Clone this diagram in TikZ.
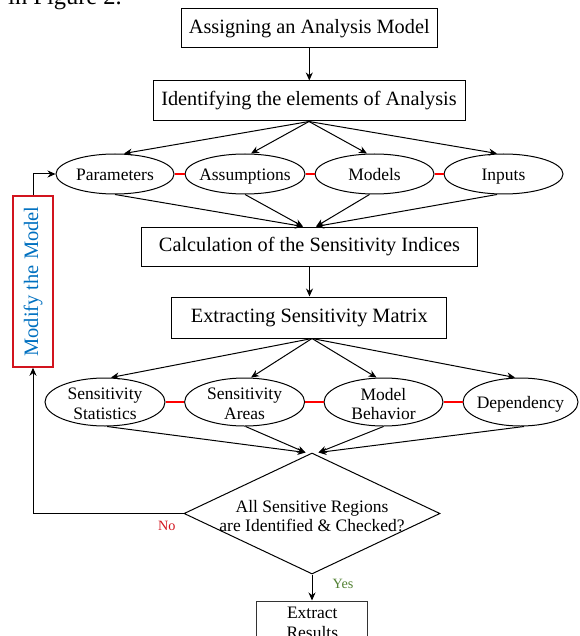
\documentclass[tikz,border=0pt]{standalone}
\usepackage{fontspec}
\usepackage{graphicx}
\setmainfont{Liberation Serif}
\usetikzlibrary{shapes.geometric,arrows.meta}
\definecolor{mblue}{RGB}{0,112,192}
\definecolor{mred}{RGB}{210,20,30}
\definecolor{lred}{RGB}{255,0,0}
\definecolor{ygreen}{RGB}{84,130,53}
\begin{document}
\begin{tikzpicture}[x=1pt,y=-1pt,
  box/.style={draw, line width=1pt, inner sep=0pt, font=\fontsize{20.3}{24}\selectfont},
  ell/.style={draw, ellipse, line width=1pt, inner sep=0pt},
  etext/.style={font=\fontsize{17.5}{19.5}\selectfont, align=center, inner sep=0pt},
  eone/.style={etext, text height=12.3pt, text depth=0pt},
  etwo/.style={etext, yshift=-2pt},
  arr/.style={line width=1pt, -{Stealth[length=8pt,width=7pt]}},
  rline/.style={line width=1.5pt, color=lred},
]
\useasboundingbox (0,0) rectangle (579,636);
\clip (0,0) rectangle (579,636);

\node[anchor=base west, inner sep=0pt, font=\fontsize{24.5}{28}\selectfont] (fig) at (8,5) {in Figure 2.};

\node[box, minimum width=256.6pt, minimum height=39pt] (b1) at (309.3,28.5) {Assigning an Analysis Model};
\node[box, minimum width=312pt, minimum height=40pt] (b2) at (309,101) {Identifying the elements of Analysis};

\node[ell, minimum width=118pt, minimum height=40pt, label={[eone]center:Parameters}] (P) at (115,174) {};
\node[ell, minimum width=120pt, minimum height=40pt, label={[eone]center:Assumptions}] (A) at (245,174) {};
\node[ell, minimum width=119pt, minimum height=40pt, label={[eone]center:Models}] (M) at (374.5,174) {};
\node[ell, minimum width=119pt, minimum height=40pt, label={[eone]center:Inputs}] (I) at (503.5,174) {};

\node[box, minimum width=336pt, minimum height=39pt] (b3) at (309.5,246.5) {Calculation of the Sensitivity Indices};
\node[box, minimum width=275pt, minimum height=41pt] (b4) at (309.3,317.5) {Extracting Sensitivity Matrix};

\node[ell, minimum width=120pt, minimum height=48pt, label={[etwo]center:Sensitivity\\Statistics}] (SS) at (105,402) {};
\node[ell, minimum width=120pt, minimum height=48pt, label={[etwo]center:Sensitivity\\Areas}] (SA) at (244.6,402) {};
\node[ell, minimum width=119pt, minimum height=48pt, label={[etwo]center:Model\\Behavior}] (MB) at (383.5,402) {};
\node[ell, minimum width=115pt, minimum height=48pt, label={[eone]center:Dependency}] (D) at (520.5,402) {};

\node[draw, diamond, line width=1pt, inner sep=0pt, minimum width=256pt, minimum height=121pt,
  label={[etext, yshift=-2.5pt]center:All Sensitive Regions\\are Identified \& Checked?}] (d) at (312,513.5) {};

\node[draw=mred, line width=1.5pt, inner sep=0pt, minimum width=40pt, minimum height=171pt, text=mblue,
  font=\fontsize{20.5}{24}\selectfont] (mod) at (33,281.5) {\rotatebox{90}{Modify the Model}};

\node[box, draw=black!80, minimum width=111pt, minimum height=44pt, font=\fontsize{17.5}{19.5}\selectfont, align=center] (ex) at (312.3,623) {Extract\\Results};

\node[inner sep=0pt, text=mred, font=\fontsize{14.2}{16}\selectfont] (no) at (166.7,525.5) {No};
\node[inner sep=0pt, text=ygreen, font=\fontsize{14.2}{16}\selectfont] (yes) at (343,584) {Yes};

% connectors
\draw[arr] (b1.south) -- (b1.south |- b2.north);
\draw[arr] (b2.south) -- ([xshift=9pt]P.north);
\draw[arr] (b2.south) -- ([xshift=6pt]A.north);
\draw[arr] (b2.south) -- ([xshift=-7.5pt]M.north);
\draw[arr] (b2.south) -- ([xshift=-6.5pt]I.north);

\draw[rline] (P.east) -- (A.west);
\draw[rline] (A.east) -- (M.west);
\draw[rline] (M.east) -- (I.west);

\draw[arr] (P.south) -- ([xshift=-6.5pt]b3.north);
\draw[arr] (A.south) -- ([xshift=-6.5pt]b3.north);
\draw[arr] ([xshift=-5pt]M.south) -- ([xshift=6.5pt]b3.north);
\draw[arr] ([xshift=-6.5pt]I.south) -- ([xshift=6.5pt]b3.north);

\draw[arr] (b3.south) -- (b3.south |- b4.north);

\draw[arr] ([xshift=2.7pt]b4.south) -- ([xshift=6pt]SS.north);
\draw[arr] ([xshift=2.7pt]b4.south) -- ([xshift=6.4pt]SA.north);
\draw[arr] ([xshift=2.7pt]b4.south) -- ([xshift=-7pt]MB.north);
\draw[arr] ([xshift=2.7pt]b4.south) -- ([xshift=-5.5pt]D.north);

\draw[rline] (SS.east) -- (SA.west);
\draw[rline] (SA.east) -- (MB.west);
\draw[rline] (MB.east) -- (D.west);

\draw[arr] ([xshift=2pt]SS.south) -- ([xshift=-6.5pt]d.north);
\draw[arr] ([xshift=1pt]SA.south) -- ([xshift=-6.5pt]d.north);
\draw[arr] (MB.south) -- ([xshift=6.5pt]d.north);
\draw[arr] ([xshift=3.5pt]D.south) -- ([xshift=6.5pt]d.north);

\draw[arr] (d.west) -| (mod.south);
\draw[arr] (mod.north) |- (P.west);
\draw[arr] (d.south) -- (d.south |- ex.north);
\end{tikzpicture}
\end{document}
